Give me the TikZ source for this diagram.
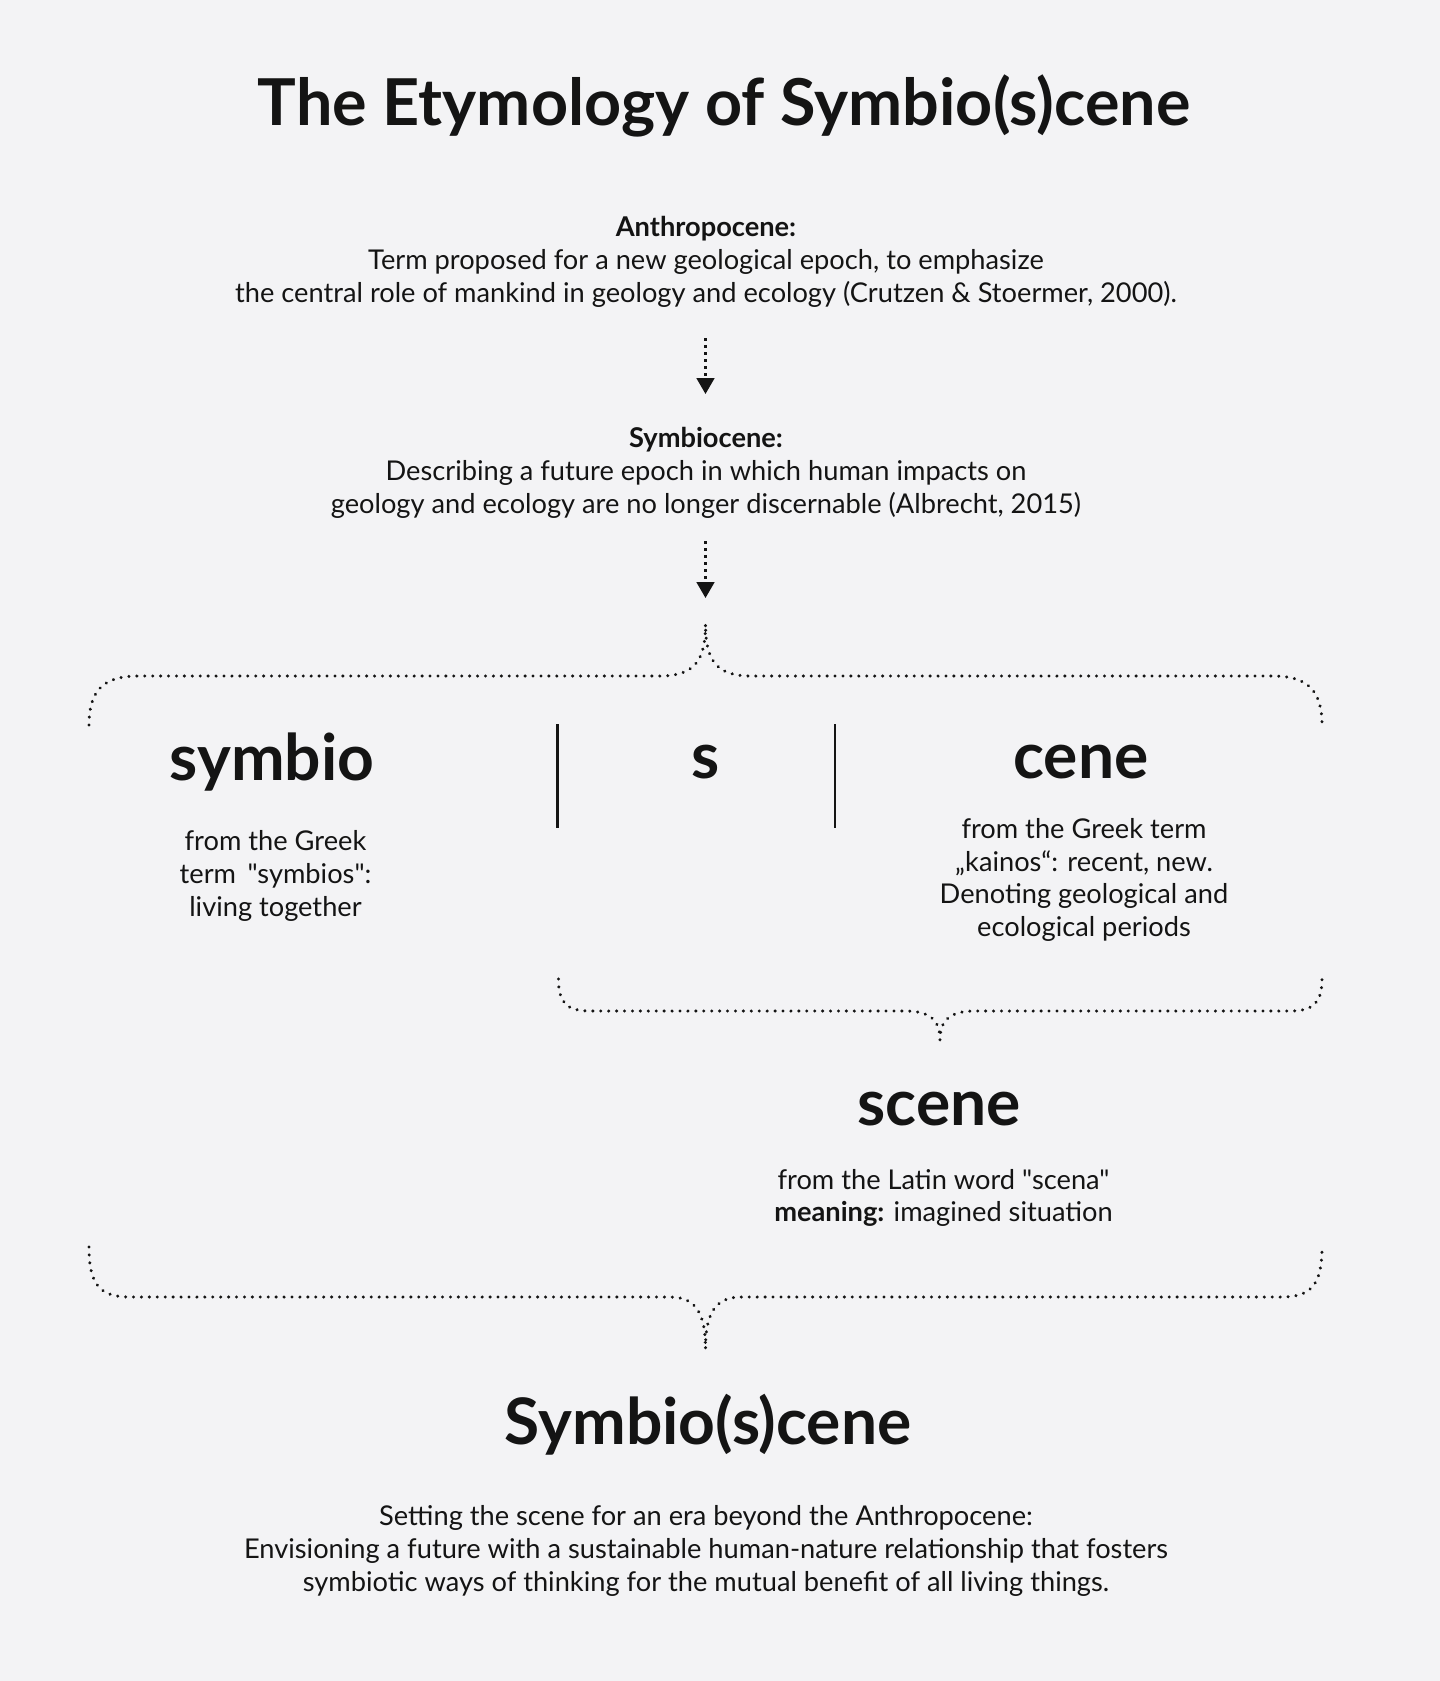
\documentclass[tikz,border=0pt]{standalone}
\usepackage{fontspec}
\setmainfont{Lato}[Ligatures=TeXOff]
\usetikzlibrary{arrows.meta}
\definecolor{bg}{RGB}{243,243,245}
\definecolor{ink}{RGB}{20,20,20}
\newcommand{\bodyfont}{\fontsize{15.5}{18.6}\selectfont}
\newcommand{\bigfont}{\fontsize{36.5}{40}\selectfont\bfseries}
\tikzset{
  body/.style={font=\bodyfont, align=center, text=ink, inner sep=0pt},
  bigword/.style={font=\bigfont, text=ink, inner sep=0pt},
  dotline/.style={draw=ink, line width=1.9pt, line cap=round, dash pattern=on 0.01pt off 4.5pt},
  arr/.style={draw=ink, line width=1.4pt, dash pattern=on 1.6pt off 2.4pt, -{Triangle[width=10pt,length=9pt]}},
  bar/.style={draw=ink, line width=1.2pt}
}
\begin{document}
\begin{tikzpicture}[x=0.02cm, y=-0.02cm]
\fill[bg] (0,0) rectangle (1440,1681);
\useasboundingbox (0,0) rectangle (1440,1681);

\node[bigword, font=\fontsize{36.8}{40}\selectfont\bfseries] (title) at (724,106) {The Etymology of Symbio(s)cene};

\node[body] (anth) at (706,262) {\textbf{Anthropocene:}\\Term proposed for a new geological epoch, to emphasize\\the central role of mankind in geology and ecology (Crutzen \& Stoermer, 2000).};

\coordinate (a1s) at (705.5,338);
\coordinate (a1e) at (705.5,394);
\draw[arr] (a1s) -- (a1e);

\node[body] (symb) at (706,473) {\textbf{Symbiocene:}\\Describing a future epoch in which human impacts on\\geology and ecology are no longer discernable (Albrecht, 2015)};

\coordinate (a2s) at (705.5,541);
\coordinate (a2e) at (705.5,598);
\draw[arr] (a2s) -- (a2e);

% top brace
\draw[dotline] (89,725) .. controls (89,692) and (102,676) .. (138,676) -- (660,676)
  .. controls (695,676) and (705.5,660) .. (705.5,624)
  .. controls (705.5,660) and (716,676) .. (751,676) -- (1273,676)
  .. controls (1309,676) and (1322,692) .. (1322,725);

% bars
\coordinate (b1t) at (557.5,724); \coordinate (b1b) at (557.5,828);
\coordinate (b2t) at (835,724); \coordinate (b2b) at (835,828);
\draw[bar] (b1t) -- (b1b);
\draw[bar] (b2t) -- (b2b);

\node[bigword] (symbio) at (272,762) {symbio};
\node[bigword] (s) at (705.5,762) {s};
\node[bigword] (cene) at (1081,762) {cene};

\node[body] (symbiod) at (275.5,876) {from the Greek\\term \,"symbios":\\living together};
\node[body] (cened) at (1084,880) {from the Greek term\\„kainos“: recent, new.\\Denoting geological and\\ecological periods};

% middle brace
\draw[dotline] (558.5,979) .. controls (558.5,1002) and (566,1011) .. (590,1011) -- (905,1011)
  .. controls (930,1011) and (940,1020) .. (940,1040)
  .. controls (940,1020) and (950,1011) .. (975,1011) -- (1290,1011)
  .. controls (1314,1011) and (1322,1002) .. (1322,979);

\node[bigword] (scene) at (939,1109) {scene};
\node[body] (scened) at (943.5,1198) {from the Latin word "scena"\\\textbf{meaning:} imagined situation};

% bottom brace
\draw[dotline] (89,1247) .. controls (89,1285) and (100,1297) .. (130,1297) -- (670,1297)
  .. controls (697,1297) and (705.5,1315) .. (705.5,1349)
  .. controls (705.5,1315) and (714,1297) .. (741,1297) -- (1281,1297)
  .. controls (1311,1297) and (1322,1285) .. (1322,1247);

\node[bigword] (final) at (708,1425) {Symbio(s)cene};
\node[body] (finald) at (706,1551) {Setting the scene for an era beyond the Anthropocene:\\Envisioning a future with a sustainable human-nature relationship that fosters\\symbiotic ways of thinking for the mutual benefit of all living things.};
\end{tikzpicture}
\end{document}
